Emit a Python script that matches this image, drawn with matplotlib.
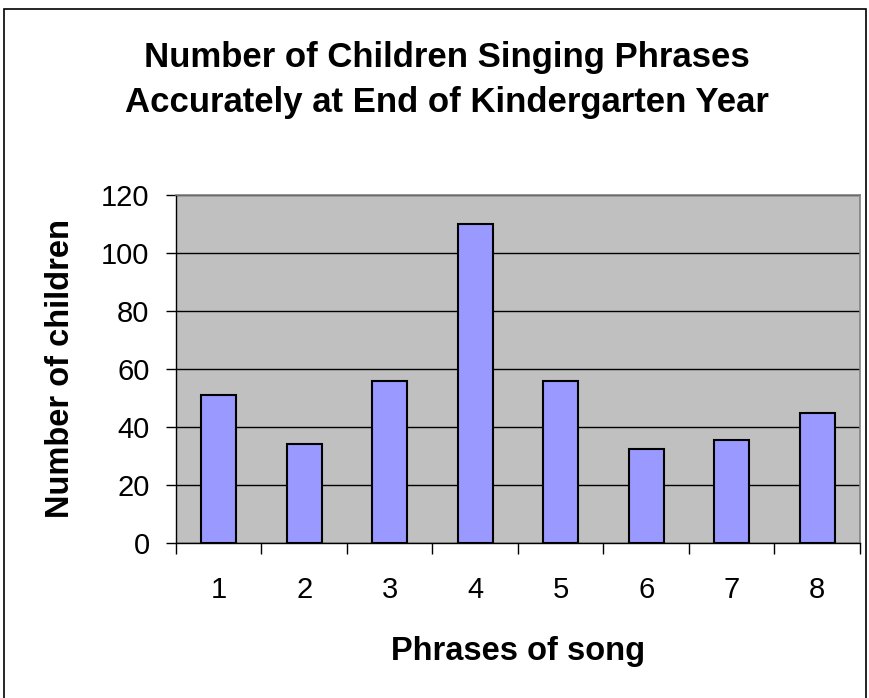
import matplotlib
matplotlib.use("Agg")
import matplotlib.pyplot as plt
from matplotlib.patches import Rectangle
from matplotlib.ticker import FixedLocator, NullFormatter

# values
phrases = ["1", "2", "3", "4", "5", "6", "7", "8"]
children = [51, 34, 56, 110, 56, 32.5, 35.5, 45]
y_ticks = [0, 20, 40, 60, 80, 100, 120]
title_lines = ["Number of Children Singing Phrases",
               "Accurately at End of Kindergarten Year"]

plt.rcParams["font.family"] = ["Liberation Sans", "DejaVu Sans"]

fig = plt.figure(figsize=(8.7, 6.98), dpi=100)
ax = fig.add_axes([176 / 870, 1 - 543 / 698, 684 / 870, 348 / 698])

# outer chart frame (runs off the bottom of the picture, like the source)
fig.patches.append(Rectangle((4 / 870, -0.05), 862 / 870, 1.05 - 9 / 698,
                             transform=fig.transFigure, fill=False,
                             edgecolor="black", linewidth=1.2))

x = list(range(len(phrases)))
ax.set_facecolor("#C0C0C0")
ax.bar(x, children, width=0.41, color="#9999FF", edgecolor="black", linewidth=1.5, zorder=3)

ax.set_xlim(-0.5, len(phrases) - 0.5)
ax.set_ylim(0, 120)
ax.set_yticks(y_ticks)
ax.yaxis.grid(True, color="black", linewidth=1.0, zorder=1)
ax.set_axisbelow(True)

ax.set_xticks(x)
ax.set_xticklabels(phrases)
ax.xaxis.set_minor_locator(FixedLocator([i - 0.5 for i in range(len(phrases) + 1)]))
ax.xaxis.set_minor_formatter(NullFormatter())
ax.tick_params(axis="x", which="major", length=0, pad=24, labelsize=21)
ax.tick_params(axis="x", which="minor", length=8, width=1, direction="out")
ax.tick_params(axis="y", length=7, width=1, direction="out", pad=12, labelsize=21)

for side in ("top", "right"):
    ax.spines[side].set_color("#808080")
    ax.spines[side].set_linewidth(1.2)
for side in ("left", "bottom"):
    ax.spines[side].set_color("black")
    ax.spines[side].set_linewidth(1.0)

ax.set_xlabel("Phrases of song", fontsize=23.5, fontweight="bold", labelpad=23)
ax.set_ylabel("Number of children", fontsize=23.5, fontweight="bold", labelpad=18)

for line, base_y in zip(title_lines, (67, 112)):
    fig.text(447 / 870, 1 - base_y / 698, line, ha="center", va="baseline",
             fontsize=25, fontweight="bold")

fig.savefig("out.png", dpi=100)
